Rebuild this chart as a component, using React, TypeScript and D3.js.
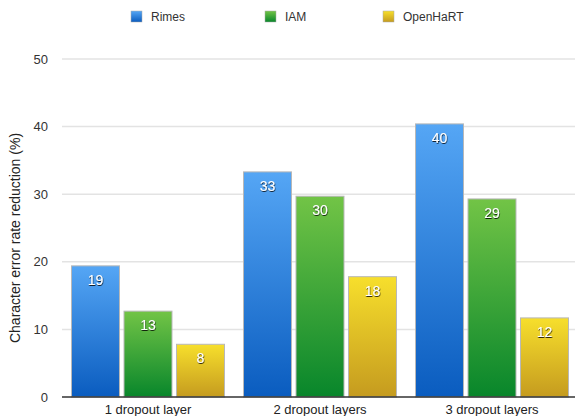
import React from "react";
import * as d3 from "d3";

const categories = ["1 dropout layer", "2 dropout layers", "3 dropout layers"];
const seriesNames = ["Rimes", "IAM", "OpenHaRT"];
const rimes = [19.4, 33.3, 40.4];
const iam = [12.7, 29.7, 29.3];
const openhart = [7.8, 17.8, 11.7];
const yTicks = [0, 10, 20, 30, 40, 50];

const seriesValues = [rimes, iam, openhart];
const gradients = [
  ["#55a6f5", "#0a5cbf"],
  ["#72c446", "#08862b"],
  ["#f7df2c", "#c59b1f"],
];

export default function App() {
  const W = 575, H = 416;
  const y = d3.scaleLinear().domain([0, 50]).range([397, 59]);
  const x0 = d3.scaleBand<string>().domain(categories).range([62, 578]).paddingInner(0).paddingOuter(0);
  const x1 = d3
    .scaleBand<string>()
    .domain(seriesNames)
    .range([9.5, x0.bandwidth() - 9.5])
    .paddingInner(0.086)
    .paddingOuter(0);
  const font = "'Liberation Sans', Arial, Helvetica, sans-serif";
  const legendX = [131, 265, 383];

  return (
    <svg width={W} height={H} style={{ position: "absolute", left: 0, top: 0 }} fontFamily={font}>
      <defs>
        {gradients.map((g, i) => (
          <linearGradient key={i} id={`g${i}`} x1="0" y1="0" x2="0" y2="1">
            <stop offset="0%" stopColor={g[0]} />
            <stop offset="100%" stopColor={g[1]} />
          </linearGradient>
        ))}
        <filter id="ts" x="-50%" y="-50%" width="200%" height="200%">
          <feDropShadow dx="0.5" dy="1" stdDeviation="0.6" floodColor="#000" floodOpacity="0.8" />
        </filter>
      </defs>
      <rect width={W} height={H} fill="#fff" />
      {/* gridlines */}
      {yTicks.map((t) =>
        t === 0 ? null : (
          <line key={t} x1={62} x2={W} y1={y(t)} y2={y(t)} stroke="#e3e3e3" strokeWidth={1.5} />
        )
      )}
      {yTicks.map((t) => (
        <text key={t} x={48} y={y(t)} dy="0.35em" textAnchor="end" fontSize={13} fill="#333">
          {t}
        </text>
      ))}
      <text
        transform={`translate(20,${(59 + 397) / 2 + 10}) rotate(-90)`}
        textAnchor="middle"
        fontSize={14}
        fill="#222"
      >
        Character error rate reduction (%)
      </text>
      {/* bars */}
      {categories.map((c, ci) => (
        <g key={c} transform={`translate(${x0(c)},0)`}>
          {seriesNames.map((s, si) => {
            const v = seriesValues[si][ci];
            const bx = x1(s)!;
            const bw = x1.bandwidth();
            return (
              <g key={s}>
                <rect
                  x={bx}
                  y={y(v)}
                  width={bw}
                  height={y(0) - y(v)}
                  fill={`url(#g${si})`}
                  stroke="#b8b8b8"
                  strokeWidth={1}
                />
                <text
                  x={bx + bw / 2}
                  y={y(v) + 19}
                  textAnchor="middle"
                  fontSize={14}
                  fill="#fff"
                  filter="url(#ts)"
                >
                  {Math.round(v)}
                </text>
              </g>
            );
          })}
          <text x={x0.bandwidth() / 2} y={414} textAnchor="middle" fontSize={13} fill="#222">
            {c}
          </text>
        </g>
      ))}
      <line x1={62} x2={W} y1={y(0)} y2={y(0)} stroke="#333" strokeWidth={1.5} />
      {/* legend */}
      {seriesNames.map((s, i) => (
        <g key={s} transform={`translate(${legendX[i]},11)`}>
          <rect width={11} height={11} fill={`url(#g${i})`} stroke="#aaa" strokeWidth={0.5} />
          <text x={20} y={5.5} dy="0.35em" fontSize={12} fill="#333">
            {s}
          </text>
        </g>
      ))}
    </svg>
  );
}
